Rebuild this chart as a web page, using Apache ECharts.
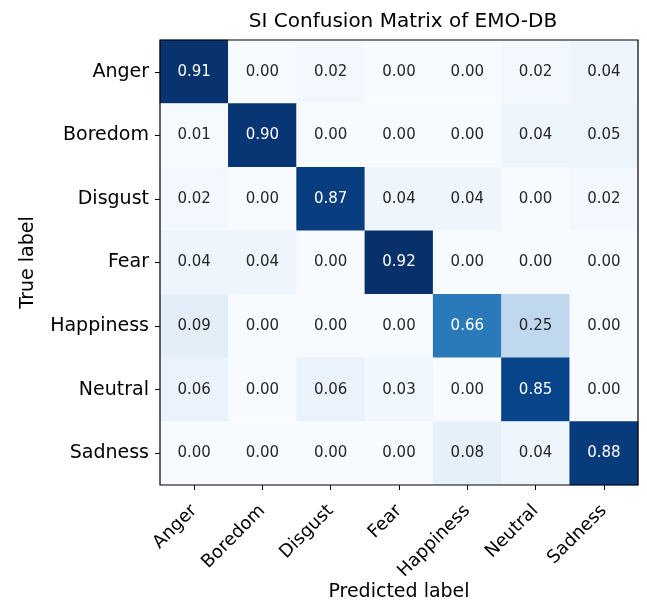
<!DOCTYPE html>
<html>
<head>
<meta charset="utf-8">
<script src="https://cdn.jsdelivr.net/npm/echarts@6/dist/echarts.min.js"></script>
<style>
  html, body { margin: 0; padding: 0; background: #fff; }
  #main { width: 647px; height: 602px; }
</style>
</head>
<body>
<div id="main"></div>
<script>
var labels = ["Anger", "Boredom", "Disgust", "Fear", "Happiness", "Neutral", "Sadness"];
var matrix = [
  [0.91, 0.00, 0.02, 0.00, 0.00, 0.02, 0.04],
  [0.01, 0.90, 0.00, 0.00, 0.00, 0.04, 0.05],
  [0.02, 0.00, 0.87, 0.04, 0.04, 0.00, 0.02],
  [0.04, 0.04, 0.00, 0.92, 0.00, 0.00, 0.00],
  [0.09, 0.00, 0.00, 0.00, 0.66, 0.25, 0.00],
  [0.06, 0.00, 0.06, 0.03, 0.00, 0.85, 0.00],
  [0.00, 0.00, 0.00, 0.00, 0.08, 0.04, 0.88]
];
var blues = ["#f7fbff", "#deebf7", "#c6dbef", "#9ecae1", "#6baed6", "#4292c6", "#2171b5", "#08519c", "#08306b"];

var vmax = 0.92;
var cells = [];
matrix.forEach(function (row, i) {
  row.forEach(function (v, j) {
    cells.push({
      value: [j, i, v],
      label: { color: v > vmax / 2 ? "#ffffff" : "#262626" }
    });
  });
});

var font = "DejaVu Sans";
var chart = echarts.init(document.getElementById("main"));
chart.setOption({
  backgroundColor: "#fff",
  animation: false,
  title: {
    text: "SI Confusion Matrix of EMO-DB",
    left: 398, top: 7, textAlign: "center",
    textStyle: { fontFamily: font, fontSize: 20, fontWeight: "normal", color: "#000" }
  },
  // x-axis name placed by hand so the rotated tick labels don't push it
  graphic: [{
    type: "text",
    x: 399, y: 592,
    style: {
      text: "Predicted label",
      font: "19px DejaVu Sans",
      fill: "#000",
      align: "center",
      verticalAlign: "middle"
    }
  }],
  grid: {
    left: 160, right: 9, top: 40, bottom: 117,
    outerBoundsMode: "none",
    containLabel: false,
    show: true, borderColor: "#000", borderWidth: 1.2, backgroundColor: "transparent", z: 5
  },
  xAxis: {
    type: "category",
    data: labels,
    axisLine: { show: false },
    axisTick: { show: true, alignWithLabel: true, length: 5, lineStyle: { color: "#000" } },
    axisLabel: { rotate: 45, margin: 23, fontFamily: font, fontSize: 18, color: "#000" },
    splitLine: { show: false }
  },
  yAxis: {
    type: "category",
    data: labels,
    inverse: true,
    name: "True label",
    nameLocation: "middle",
    nameGap: 122,
    nameRotate: 90,
    nameTextStyle: { fontFamily: font, fontSize: 19, color: "#000" },
    axisLine: { show: false },
    axisTick: { show: true, alignWithLabel: true, length: 5, lineStyle: { color: "#000" } },
    axisLabel: { margin: 11, fontFamily: font, fontSize: 19, color: "#000" },
    splitLine: { show: false }
  },
  visualMap: {
    show: false,
    min: 0,
    max: vmax,
    dimension: 2,
    inRange: { color: blues }
  },
  series: [{
    type: "heatmap",
    data: cells,
    label: {
      show: true,
      fontFamily: font,
      fontSize: 15,
      formatter: function (p) { return p.value[2].toFixed(2); }
    },
    itemStyle: { borderWidth: 0 },
    emphasis: { disabled: true }
  }]
});
</script>
</body>
</html>
